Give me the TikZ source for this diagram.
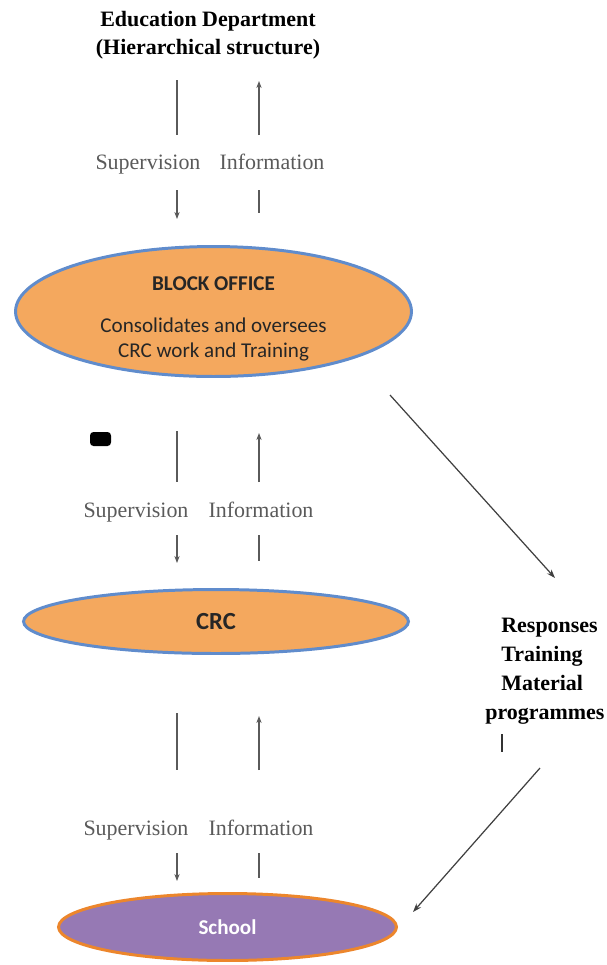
\documentclass[tikz,border=0pt]{standalone}
\usepackage{fontspec}
\setmainfont{Liberation Serif}
\newfontfamily\calibri{Carlito}
\usetikzlibrary{shapes.geometric,arrows.meta}

\definecolor{blockfill}{RGB}{244,168,94}
\definecolor{blockline}{RGB}{96,140,204}
\definecolor{schoolfill}{RGB}{150,121,180}
\definecolor{schoolline}{RGB}{236,134,44}
\definecolor{labelgray}{RGB}{90,90,90}

\tikzset{
  office/.style={ellipse, draw=blockline, line width=1.7pt, fill=blockfill, inner sep=0pt},
  officetext/.style={align=center, text=black!85, font=\calibri\fontsize{12}{14.2}\selectfont},
  flowlabel/.style={anchor=base, text=labelgray, font=\fontsize{12.5}{15}\selectfont, inner sep=0pt},
  flowline/.style={draw=labelgray, line width=0.6pt},
  flowarrow/.style={flowline, -{Stealth[length=4pt,width=3pt]}},
  resparrow/.style={draw=black!75, line width=0.7pt, -{Stealth[length=5pt,width=3.5pt]}}
}

\begin{document}
\begin{tikzpicture}[x=0.02cm,y=-0.02cm]
\useasboundingbox (0,0) rectangle (607,965);
% top of the hierarchy
\node (dept) [align=center, font=\bfseries\fontsize{12.5}{16}\selectfont] at (208,35)
  {Education Department\\(Hierarchical structure)};
% offices
\node (block) [office, minimum width=7.92cm, minimum height=2.6cm] at (213.5,311.5) {};
\node (blocktext) [officetext] at (213.5,319)
  {\textbf{BLOCK OFFICE}\\[9.5pt]Consolidates and oversees\\CRC work and Training};
\node (crc) [office, minimum width=7.7cm, minimum height=1.28cm,
  font=\calibri\bfseries\fontsize{14}{16}\selectfont, text=black!85] at (216,621.5) {CRC};
\node (school) [office, draw=schoolline, fill=schoolfill, minimum width=6.76cm, minimum height=1.34cm,
  font=\calibri\bfseries\fontsize{12}{14}\selectfont, text=white] at (227.5,927) {School};
% labels (on their baselines)
\node (sup1) [flowlabel] at (148,169) {Supervision};
\node (inf1) [flowlabel] at (272,169) {Information};
\node (sup2) [flowlabel] at (136,517) {Supervision};
\node (inf2) [flowlabel] at (261,517) {Information};
\node (sup3) [flowlabel] at (136,835) {Supervision};
\node (inf3) [flowlabel] at (261,835) {Information};
\node (resp) [anchor=north west, align=left, inner sep=0pt,
  font=\bfseries\fontsize{12.5}{16.4}\selectfont] at (501,618)
  {Responses\\Training\\Material\\\hspace*{-0.32cm}programmes};
% department -> block office
\coordinate (sa1) at (177,80);  \coordinate (sb1) at (177,135);
\coordinate (sc1) at (177,190); \coordinate (sd1) at (177,219);
\coordinate (ia1) at (259,81);  \coordinate (ib1) at (259,135);
\coordinate (ic1) at (259,190); \coordinate (id1) at (259,213);
\draw [flowline] (sa1) -- (sb1);
\draw [flowarrow] (sc1) -- (sd1);
\draw [flowarrow] (ib1) -- (ia1);
\draw [flowline] (ic1) -- (id1);
% block office -> crc
\coordinate (sa2) at (177,431); \coordinate (sb2) at (177,482);
\coordinate (sc2) at (177,535); \coordinate (sd2) at (177,563);
\coordinate (ia2) at (259,433); \coordinate (ib2) at (259,482);
\coordinate (ic2) at (259,535); \coordinate (id2) at (259,561);
\draw [flowline] (sa2) -- (sb2);
\draw [flowarrow] (sc2) -- (sd2);
\draw [flowarrow] (ib2) -- (ia2);
\draw [flowline] (ic2) -- (id2);
% crc -> school
\coordinate (sa3) at (177,713); \coordinate (sb3) at (177,770);
\coordinate (sc3) at (177,853); \coordinate (sd3) at (177,881);
\coordinate (ia3) at (259,716); \coordinate (ib3) at (259,770);
\coordinate (ic3) at (259,853); \coordinate (id3) at (259,878);
\draw [flowline] (sa3) -- (sb3);
\draw [flowarrow] (sc3) -- (sd3);
\draw [flowarrow] (ib3) -- (ia3);
\draw [flowline] (ic3) -- (id3);
% side path
\coordinate (r1) at (390,395); \coordinate (r2) at (555,578);
\coordinate (r3) at (540,768); \coordinate (r4) at (413,912);
\draw [resparrow] (r1) -- (r2);
\draw [resparrow] (r3) -- (r4);
\draw [line width=1.7pt, black!80] (502,734) -- (502,752);
\fill [black, rounded corners=2pt] (90,432) rectangle (111,446);
\end{tikzpicture}
\end{document}
